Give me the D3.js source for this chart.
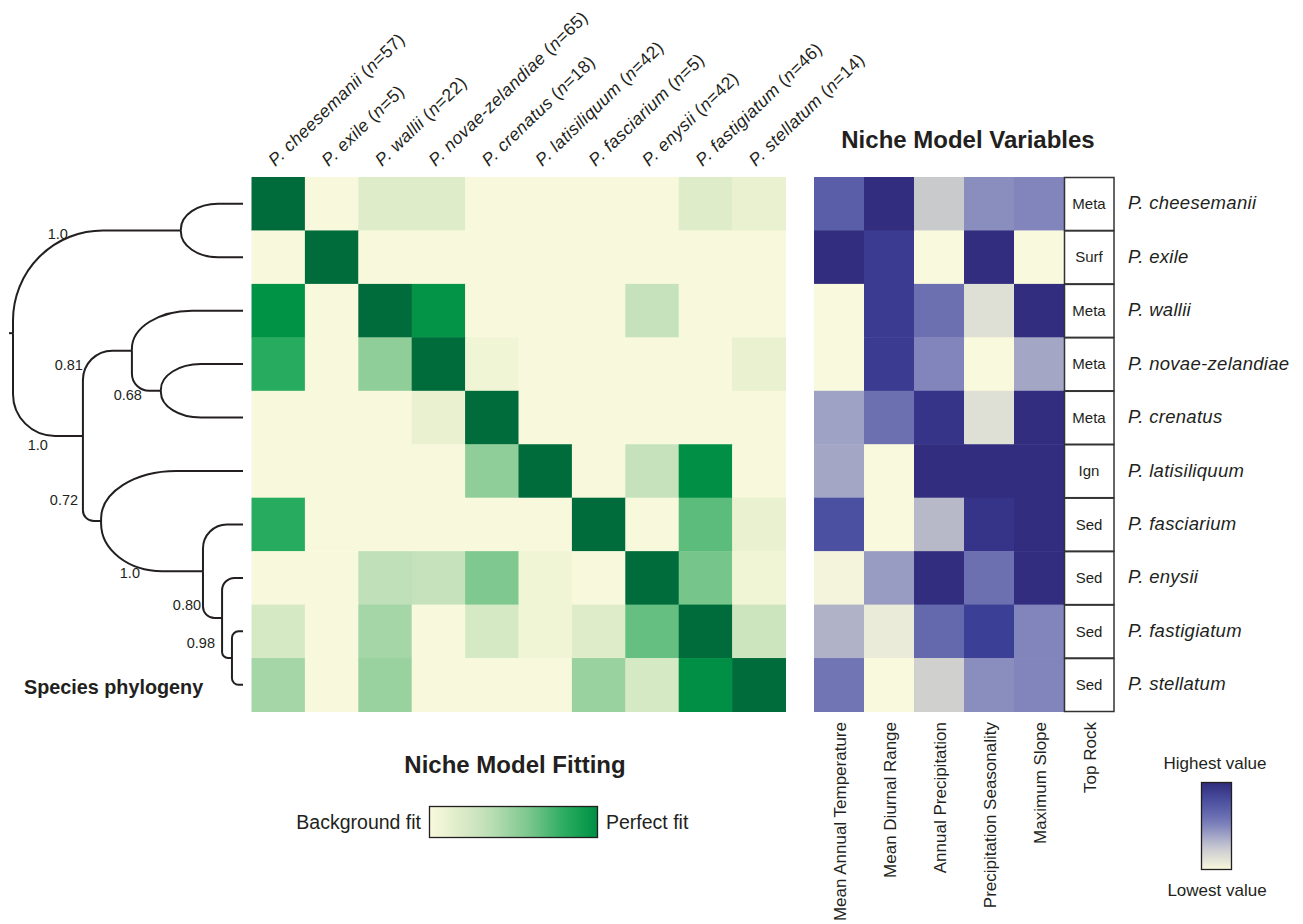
<!DOCTYPE html>
<html>
<head>
<meta charset="utf-8">
<script src="https://cdn.jsdelivr.net/npm/d3@7"></script>
<style>
  html, body { margin: 0; padding: 0; background: #fff; }
  svg { display: block; font-family: "Liberation Sans", Arial, Helvetica, sans-serif; }
</style>
</head>
<body>
<div id="chart"></div>
<script>
// species order (rows of both heatmaps, columns of the fitting matrix)
const species = ['cheesemanii', 'exile', 'wallii', 'novae-zelandiae', 'crenatus',
  'latisiliquum', 'fasciarium', 'enysii', 'fastigiatum', 'stellatum'];
const sampleSizes = [57, 5, 22, 65, 18, 42, 5, 42, 46, 14];

// niche model fitting, 0 = background fit, 1 = perfect fit (row = model, col = species)
const fitValues = [
  [1.00, 0.00, 0.15, 0.15, 0.00, 0.00, 0.00, 0.00, 0.15, 0.09],
  [0.00, 1.00, 0.00, 0.00, 0.00, 0.00, 0.00, 0.00, 0.00, 0.00],
  [0.85, 0.00, 1.00, 0.84, 0.00, 0.00, 0.00, 0.27, 0.00, 0.00],
  [0.70, 0.00, 0.45, 1.00, 0.05, 0.00, 0.00, 0.00, 0.00, 0.09],
  [0.00, 0.00, 0.00, 0.09, 1.00, 0.00, 0.00, 0.00, 0.00, 0.00],
  [0.00, 0.00, 0.00, 0.00, 0.45, 1.00, 0.00, 0.27, 0.86, 0.00],
  [0.70, 0.00, 0.00, 0.00, 0.00, 0.00, 1.00, 0.00, 0.58, 0.09],
  [0.00, 0.00, 0.30, 0.27, 0.50, 0.05, 0.00, 1.00, 0.52, 0.05],
  [0.19, 0.00, 0.38, 0.00, 0.19, 0.05, 0.15, 0.56, 1.00, 0.24],
  [0.38, 0.00, 0.42, 0.00, 0.00, 0.00, 0.42, 0.19, 0.86, 1.00]
];

// niche model variables, 0 = lowest value, 1 = highest value
const variables = ['Mean Annual Temperature', 'Mean Diurnal Range', 'Annual Precipitation',
  'Precipitation Seasonality', 'Maximum Slope'];
const variableValues = [
  [0.75, 1.00, 0.30, 0.56, 0.60],
  [1.00, 0.92, 0.00, 1.00, 0.00],
  [0.00, 0.92, 0.68, 0.15, 1.00],
  [0.00, 0.92, 0.60, 0.00, 0.45],
  [0.47, 0.68, 0.96, 0.15, 1.00],
  [0.45, 0.00, 1.00, 1.00, 1.00],
  [0.82, 0.00, 0.37, 0.96, 1.00],
  [0.03, 0.50, 1.00, 0.68, 1.00],
  [0.40, 0.08, 0.71, 0.90, 0.60],
  [0.66, 0.00, 0.25, 0.56, 0.60]
];
const topRock = ['Meta', 'Surf', 'Meta', 'Meta', 'Meta', 'Ign', 'Sed', 'Sed', 'Sed', 'Sed'];

// phylogeny: node depth (0 = root, 1 = tips) and posterior support
const treeNodes = [
  { id: 'root', parent: null, depth: 0.000, support: null },
  { id: 'A', parent: 'root', depth: 0.730, support: '1.0' },
  { id: 'B', parent: 'root', depth: 0.304, support: '1.0' },
  { id: 'B1', parent: 'B', depth: 0.517, support: '0.81' },
  { id: 'B1a', parent: 'B1', depth: 0.643, support: '0.68' },
  { id: 'B2', parent: 'B', depth: 0.383, support: '0.72' },
  { id: 'B2a', parent: 'B2', depth: 0.826, support: '1.0' },
  { id: 'B2b', parent: 'B2a', depth: 0.909, support: '0.80' },
  { id: 'B2c', parent: 'B2b', depth: 0.952, support: '0.98' },
  { id: 'cheesemanii', parent: 'A', depth: 1 },
  { id: 'exile', parent: 'A', depth: 1 },
  { id: 'wallii', parent: 'B1', depth: 1 },
  { id: 'novae-zelandiae', parent: 'B1a', depth: 1 },
  { id: 'crenatus', parent: 'B1a', depth: 1 },
  { id: 'latisiliquum', parent: 'B2', depth: 1 },
  { id: 'fasciarium', parent: 'B2a', depth: 1 },
  { id: 'enysii', parent: 'B2b', depth: 1 },
  { id: 'fastigiatum', parent: 'B2c', depth: 1 },
  { id: 'stellatum', parent: 'B2c', depth: 1 }
];

const width = 1303, height = 924;
const ink = '#231f20';

const svg = d3.select('#chart').append('svg')
  .attr('width', width)
  .attr('height', height)
  .attr('viewBox', `0 0 ${width} ${height}`);

const defs = svg.append('defs');

// scales
const yRow = d3.scaleBand().domain(species).range([177, 711.5]);
const xFit = d3.scaleBand().domain(species).range([251.5, 785.5]);
const xVar = d3.scaleBand().domain(variables.concat(['Top Rock'])).range([814, 1114]);
const xTree = d3.scaleLinear().domain([0, 1]).range([13, 243]);

const greenColor = d3.scaleLinear()
  .domain([0, 0.15, 0.3, 0.5, 0.7, 0.85, 1])
  .range(['#f8f9dc', '#dfecca', '#bfe0b8', '#7fc88f', '#27ab5e', '#009245', '#006b3b']);
const blueColor = d3.scaleLinear()
  .domain([0, 0.15, 0.3, 0.45, 0.6, 0.75, 0.9, 1])
  .range(['#f9f9de', '#dedfd5', '#c9cacc', '#a3a6c5', '#8185bb', '#5a5ea8', '#3c3f96', '#322d7e']);

// fitting heatmap
const fitCells = [];
fitValues.forEach((row, i) => row.forEach((v, j) => fitCells.push({ r: species[i], c: species[j], v })));
svg.append('g').selectAll('rect')
  .data(fitCells)
  .enter()
  .append('rect')
  .attr('x', d => xFit(d.c))
  .attr('y', d => yRow(d.r))
  .attr('width', xFit.bandwidth() + 0.5)
  .attr('height', yRow.bandwidth() + 0.5)
  .attr('fill', d => greenColor(d.v));

// column labels (rotated)
const colLabels = svg.append('g').selectAll('text')
  .data(species)
  .enter()
  .append('text')
  .attr('transform', d => `translate(${xFit(d) + xFit.bandwidth() / 2 - 3},167) rotate(-44)`)
  .style('font-size', '17.5px')
  .style('letter-spacing', '0.4px')
  .style('fill', ink);
colLabels.append('tspan').style('font-style', 'italic').text(d => 'P. ' + d);
colLabels.append('tspan').text(' (');
colLabels.append('tspan').style('font-style', 'italic').text('n');
colLabels.append('tspan').text((d, i) => '=' + sampleSizes[i] + ')');

// variable heatmap
const varCells = [];
variableValues.forEach((row, i) => row.forEach((v, j) => varCells.push({ r: species[i], c: variables[j], v })));
svg.append('g').selectAll('rect')
  .data(varCells)
  .enter()
  .append('rect')
  .attr('x', d => xVar(d.c))
  .attr('y', d => yRow(d.r))
  .attr('width', xVar.bandwidth() + 0.5)
  .attr('height', yRow.bandwidth() + 0.5)
  .attr('fill', d => blueColor(d.v));

// top rock boxes
const rockG = svg.append('g').selectAll('g')
  .data(topRock)
  .enter()
  .append('g');
rockG.append('rect')
  .attr('x', xVar('Top Rock') + 0.5)
  .attr('y', (d, i) => yRow(species[i]) + 0.5)
  .attr('width', xVar.bandwidth() - 0.5)
  .attr('height', yRow.bandwidth() - 0.5)
  .attr('fill', '#fff')
  .attr('stroke', '#333')
  .attr('stroke-width', 1.5);
rockG.append('text')
  .attr('x', xVar('Top Rock') + xVar.bandwidth() / 2)
  .attr('y', (d, i) => yRow(species[i]) + yRow.bandwidth() / 2)
  .attr('dy', '0.35em')
  .attr('text-anchor', 'middle')
  .style('font-size', '15px')
  .style('fill', ink)
  .text(d => d);

// species labels at right
svg.append('g').selectAll('text')
  .data(species)
  .enter()
  .append('text')
  .attr('x', 1128)
  .attr('y', d => yRow(d) + yRow.bandwidth() / 2)
  .attr('dy', '0.3em')
  .style('font-size', '18.5px')
  .style('font-style', 'italic')
  .style('letter-spacing', '0.3px')
  .style('fill', ink)
  .text(d => 'P. ' + d);

// variable labels below
svg.append('g').selectAll('text')
  .data(xVar.domain())
  .enter()
  .append('text')
  .attr('transform', d => `translate(${xVar(d) + xVar.bandwidth() / 2 + 1},722) rotate(-90)`)
  .attr('dy', '0.35em')
  .attr('text-anchor', 'end')
  .style('font-size', '17px')
  .style('fill', ink)
  .text(d => d);

// titles
svg.append('text')
  .attr('x', 968).attr('y', 148)
  .attr('text-anchor', 'middle')
  .style('font-size', '24px').style('font-weight', 'bold').style('fill', ink)
  .text('Niche Model Variables');
svg.append('text')
  .attr('x', 515).attr('y', 773)
  .attr('text-anchor', 'middle')
  .style('font-size', '24px').style('font-weight', 'bold').style('fill', ink)
  .text('Niche Model Fitting');
svg.append('text')
  .attr('x', 24).attr('y', 694)
  .style('font-size', '19.8px').style('font-weight', 'bold').style('fill', ink)
  .text('Species phylogeny');

// phylogeny
const root = d3.stratify().id(d => d.id).parentId(d => d.parent)(treeNodes);
root.eachAfter(n => {
  n.px = xTree(n.data.depth);
  n.py = n.children ? d3.mean(n.children, c => c.py) : yRow(n.id) + yRow.bandwidth() / 2;
});

function elbow(px, py, cx, cy) {
  const dy = cy - py, dx = cx - px;
  const rx = Math.min(dx * 0.6, Math.abs(dy) * 1.5, 90);
  const ry = Math.min(Math.abs(dy) * 0.95, rx);
  const s = dy < 0 ? -1 : 1;
  const sweep = dy < 0 ? 1 : 0;
  return `M${px},${py}V${cy - s * ry}A${rx},${ry} 0 0 ${sweep} ${px + rx},${cy}H${cx}`;
}

const treeG = svg.append('g')
  .attr('fill', 'none')
  .attr('stroke', ink)
  .attr('stroke-width', 2);
treeG.selectAll('path')
  .data(root.descendants().filter(n => n.parent))
  .enter()
  .append('path')
  .attr('d', n => elbow(n.parent.px, n.parent.py, n.px, n.py));
treeG.append('path').attr('d', `M${root.px - 4},${root.py}H${root.px}`);

// support labels, offset from their node
const supportOffsets = {
  A: [-113, 9], B: [-35, 14], B1: [-49, 19], B1a: [-19, 9],
  B2: [-23, -16], B2a: [-63, 7], B2b: [-21, -8], B2c: [-17, -10]
};
svg.append('g').selectAll('text')
  .data(root.descendants().filter(n => n.data.support))
  .enter()
  .append('text')
  .attr('x', n => n.px + supportOffsets[n.id][0])
  .attr('y', n => n.py + supportOffsets[n.id][1])
  .attr('text-anchor', 'end')
  .style('font-size', '14.5px')
  .style('fill', ink)
  .text(n => n.data.support);

// green legend
const gGrad = defs.append('linearGradient').attr('id', 'gGrad');
d3.range(0, 1.001, 0.1).forEach(t => {
  gGrad.append('stop').attr('offset', t).attr('stop-color', greenColor(t * 0.86));
});
svg.append('rect')
  .attr('x', 429.5).attr('y', 806.5).attr('width', 168).attr('height', 31)
  .attr('fill', 'url(#gGrad)').attr('stroke', ink).attr('stroke-width', 1.3);
svg.append('text')
  .attr('x', 421).attr('y', 829).attr('text-anchor', 'end')
  .style('font-size', '19.5px').style('fill', ink)
  .text('Background fit');
svg.append('text')
  .attr('x', 606).attr('y', 829)
  .style('font-size', '19.5px').style('fill', ink)
  .text('Perfect fit');

// blue legend
const legendBlue = d3.scaleLinear()
  .domain([0, 0.25, 0.55, 0.8, 1])
  .range(['#f8f8dc', '#c8c9d2', '#7479b8', '#4a4e9e', '#2f2c7c']);
const bGrad = defs.append('linearGradient').attr('id', 'bGrad')
  .attr('x1', 0).attr('y1', 1).attr('x2', 0).attr('y2', 0);
d3.range(0, 1.001, 0.1).forEach(t => {
  bGrad.append('stop').attr('offset', t).attr('stop-color', legendBlue(t));
});
svg.append('rect')
  .attr('x', 1201.5).attr('y', 782.5).attr('width', 30).attr('height', 87)
  .attr('fill', 'url(#bGrad)').attr('stroke', ink).attr('stroke-width', 1.3);
svg.append('text')
  .attr('x', 1215).attr('y', 769).attr('text-anchor', 'middle')
  .style('font-size', '17px').style('fill', ink)
  .text('Highest value');
svg.append('text')
  .attr('x', 1217).attr('y', 896).attr('text-anchor', 'middle')
  .style('font-size', '17px').style('fill', ink)
  .text('Lowest value');
</script>
</body>
</html>
